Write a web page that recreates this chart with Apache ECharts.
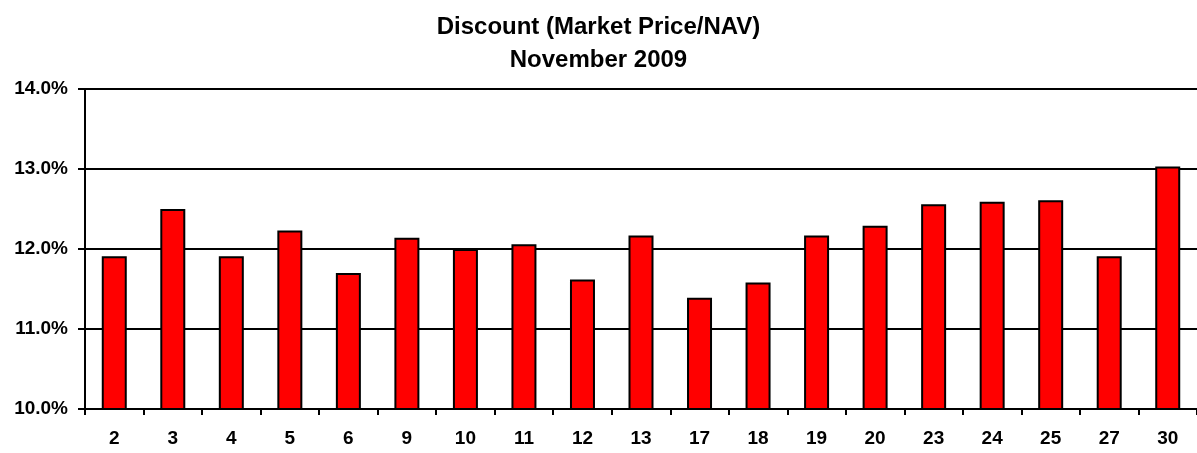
<!DOCTYPE html>
<html>
<head>
<meta charset="utf-8">
<script src="https://cdn.jsdelivr.net/npm/echarts@6/dist/echarts.min.js"></script>
<style>html,body{margin:0;padding:0;background:#fff;}#c{width:1197px;height:453px;}</style>
</head>
<body>
<div id="c"></div>
<script>
const titleLines = ['Discount (Market Price/NAV)', 'November 2009'];
const categories = ['2','3','4','5','6','9','10','11','12','13','17','18','19','20','23','24','25','27','30'];
const discount = [11.91, 12.50, 11.91, 12.23, 11.70, 12.14, 12.00, 12.06, 11.62, 12.17, 11.39, 11.58, 12.17, 12.29, 12.56, 12.59, 12.61, 11.91, 13.03];
const yTicks = {min: 10, max: 14, interval: 1};

const chart = echarts.init(document.getElementById('c'), null, {renderer: 'canvas'});
const font = '"Liberation Sans", Arial, sans-serif';
chart.setOption({
  animation: false,
  backgroundColor: '#ffffff',
  title: {
    text: titleLines[0] + '\n' + titleLines[1],
    left: 'center',
    top: 6,
    textStyle: {fontFamily: font, fontWeight: 'bold', fontSize: 24, color: '#000', lineHeight: 33}
  },
  grid: {left: 85, right: 0, top: 89, bottom: 44, containLabel: false},
  xAxis: {
    type: 'category',
    data: categories,
    boundaryGap: true,
    axisLine: {lineStyle: {color: '#000', width: 2}},
    axisTick: {show: true, alignWithLabel: false, length: 6, lineStyle: {color: '#000', width: 2}},
    axisLabel: {fontFamily: font, fontWeight: 'bold', fontSize: 19, color: '#000', margin: 20}
  },
  yAxis: {
    type: 'value',
    min: yTicks.min, max: yTicks.max, interval: yTicks.interval,
    axisLine: {show: true, lineStyle: {color: '#000', width: 2}},
    axisTick: {show: true, length: 7, lineStyle: {color: '#000', width: 2}},
    splitLine: {show: true, lineStyle: {color: '#000', width: 2}},
    axisLabel: {fontFamily: font, fontWeight: 'bold', fontSize: 19, color: '#000', margin: 17,
      formatter: v => v.toFixed(1) + '%'}
  },
  series: [{
    type: 'bar',
    data: discount,
    barWidth: 25,
    itemStyle: {color: '#ff0000', borderColor: '#000', borderWidth: 2}
  }]
});
</script>
</body>
</html>
